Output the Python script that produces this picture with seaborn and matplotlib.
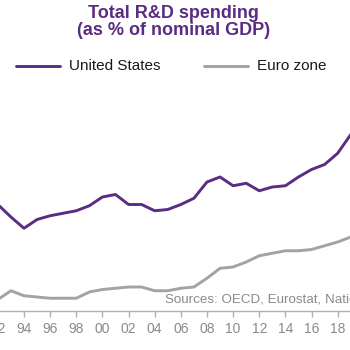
import pandas as pd
import seaborn as sns
import matplotlib.pyplot as plt

# Values (% of nominal GDP)
years = list(range(1992, 2021))
us_values = [2.59, 2.49, 2.40, 2.47, 2.50, 2.52, 2.54, 2.58, 2.65, 2.67,
             2.59, 2.59, 2.54, 2.55, 2.59, 2.64, 2.77, 2.81, 2.74, 2.76,
             2.70, 2.73, 2.74, 2.81, 2.87, 2.91, 3.00, 3.15, 3.45]
euro_values = [1.83, 1.90, 1.86, 1.85, 1.84, 1.84, 1.84, 1.89, 1.91, 1.92,
               1.93, 1.93, 1.90, 1.90, 1.92, 1.93, 2.00, 2.08, 2.09, 2.13,
               2.18, 2.20, 2.22, 2.22, 2.23, 2.26, 2.29, 2.33, 2.40]
tick_years = list(range(1992, 2020, 2))
tick_labels = [str(y)[-2:] for y in tick_years]

df = pd.DataFrame({"year": years, "United States": us_values, "Euro zone": euro_values})
long_df = df.melt(id_vars="year", var_name="series", value_name="value")

sns.set_style("white")
plt.rcParams['font.family'] = ['Liberation Sans', 'DejaVu Sans']

purple = "#5b2c83"
grey = "#a3a3a3"

fig = plt.figure(figsize=(3.5, 3.5), dpi=100)
# the chart is a crop: the plot area runs past both figure edges
ax = fig.add_axes([-60 / 350, 1 - 311 / 350, 470 / 350, (311 - 80) / 350])

sns.lineplot(data=long_df, x="year", y="value", hue="series",
             palette={"United States": purple, "Euro zone": grey},
             linewidth=2.1, legend=False, ax=ax)

ax.set_xlim(1987.573, 2023.533)
ax.set_ylim(1.738, 3.586)
ax.set_xticks(tick_years)
ax.set_xticklabels(tick_labels)
ax.set_yticks([])
ax.set_xlabel("")
ax.set_ylabel("")
for side in ["top", "left", "right"]:
    ax.spines[side].set_visible(False)
ax.spines["bottom"].set_color("#b0b0b0")
ax.spines["bottom"].set_linewidth(1.0)
ax.tick_params(axis="x", bottom=True, length=4, width=1, color="#b0b0b0",
               labelsize=10, labelcolor="#8a8a8a", pad=4)

fig.text(0.495, 0.985, "Total R&D spending\n(as % of nominal GDP)", ha="center", va="top",
         fontsize=13, fontweight="bold", color=purple, linespacing=1.0)

# legend drawn as text and short lines
fig.add_artist(plt.Line2D([16 / 350, 60 / 350], [1 - 66 / 350] * 2, color=purple, lw=2.1))
fig.text(69 / 350, 1 - 66 / 350, "United States", va="center", fontsize=11, color="#1a1a1a")
fig.add_artist(plt.Line2D([204 / 350, 248 / 350], [1 - 66 / 350] * 2, color=grey, lw=2.1))
fig.text(257 / 350, 1 - 66 / 350, "Euro zone", va="center", fontsize=11, color="#1a1a1a")

fig.text(165 / 350, 1 - 300 / 350, "Sources: OECD, Eurostat, National",
         va="center", fontsize=9.6, color="#8a8a8a")

fig.savefig("out.png", dpi=100)
